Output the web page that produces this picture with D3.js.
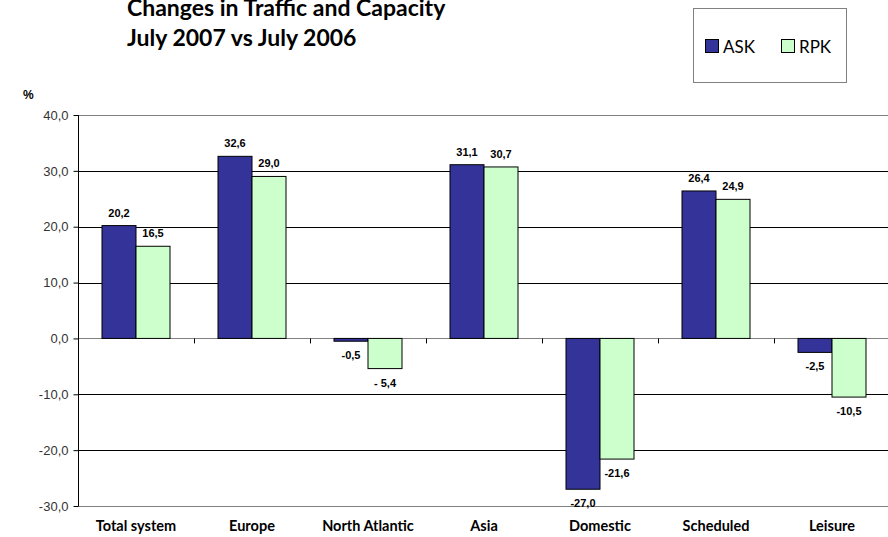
<!DOCTYPE html>
<html>
<head>
<meta charset="utf-8">
<script src="https://cdn.jsdelivr.net/npm/d3@7"></script>
<style>
  body { margin: 0; background: #fff; }
  svg { display: block; }
</style>
</head>
<body>
<div id="chart"></div>
<script>
const CATEGORIES = ["Total system", "Europe", "North Atlantic", "Asia", "Domestic", "Scheduled", "Leisure"];
const SERIES = ["ASK", "RPK"];
const ASK = [20.2, 32.6, -0.5, 31.1, -27.0, 26.4, -2.5];
const RPK = [16.5, 29.0, -5.4, 30.7, -21.6, 24.9, -10.5];
const Y_TICKS = [-30, -20, -10, 0, 10, 20, 30, 40];
const COLORS = {ASK: "#333399", RPK: "#CCFFCC"};

const WIDTH = 888, HEIGHT = 537;
const LEFT = 78, RIGHT = 890, TOP = 115, BOTTOM = 506;

// comma as decimal separator, plain hyphen for minus
const fmt = v => d3.format(".1f")(v).replace("−", "-").replace(".", ",");

let data = CATEGORIES.map((c, i) => ({cat: c, ASK: ASK[i], RPK: RPK[i]}));

let svg = d3.select("#chart").append("svg")
    .attr("width", WIDTH)
    .attr("height", HEIGHT);

let x = d3.scaleBand().domain(CATEGORIES).range([LEFT, RIGHT]);
let xs = d3.scaleBand().domain(SERIES).range([24, x.bandwidth() - 24]);
let y = d3.scaleLinear().domain([-30, 40]).range([BOTTOM, TOP]);

// gridlines
svg.append("g").selectAll("line")
   .data(Y_TICKS)
   .enter()
   .append("line")
   .attr("x1", LEFT)
   .attr("x2", WIDTH)
   .attr("y1", d => Math.round(y(d)) + 0.5)
   .attr("y2", d => Math.round(y(d)) + 0.5)
   .attr("stroke", d => (d === 40 || d === 0 || d === -30) ? "#808080" : "#000")
   .attr("stroke-width", 1);

// y axis
let yAxis = d3.axisLeft(y)
    .tickValues(Y_TICKS)
    .tickSize(5)
    .tickFormat(fmt);
let yg = svg.append("g")
   .attr("transform", "translate(" + (LEFT + 0.5) + ",0)")
   .call(yAxis);
yg.select(".domain").attr("stroke", "#000").attr("d", "M0," + TOP + "V" + BOTTOM);
yg.selectAll(".tick line").attr("stroke", "#000");
yg.selectAll(".tick text")
  .attr("x", -10)
  .attr("font-family", "Liberation Sans, Arial, sans-serif")
  .attr("font-size", 13)
  .attr("fill", "#333");

svg.append("text")
   .attr("x", 23)
   .attr("y", 99)
   .attr("font-family", "Liberation Sans, Arial, sans-serif")
   .attr("font-weight", "bold")
   .attr("font-size", 12)
   .text("%");

// category ticks at zero line
svg.append("g").selectAll("line")
   .data(CATEGORIES.slice(1))
   .enter()
   .append("line")
   .attr("x1", d => Math.round(x(d)) + 0.5)
   .attr("x2", d => Math.round(x(d)) + 0.5)
   .attr("y1", y(0))
   .attr("y2", y(0) + 5)
   .attr("stroke", "#000");

// bars
let groups = svg.append("g").selectAll("g")
   .data(data)
   .enter()
   .append("g")
   .attr("transform", d => "translate(" + x(d.cat) + ",0)");

groups.selectAll("rect")
   .data(d => SERIES.map(s => ({key: s, value: d[s]})))
   .enter()
   .append("rect")
   .attr("x", d => xs(d.key))
   .attr("y", d => y(Math.max(0, d.value)))
   .attr("width", xs.bandwidth())
   .attr("height", d => Math.abs(y(d.value) - y(0)))
   .attr("fill", d => COLORS[d.key])
   .attr("stroke", "#000")
   .attr("stroke-width", 1);

groups.selectAll("text")
   .data(d => SERIES.map(s => ({key: s, value: d[s], cat: d.cat})))
   .enter()
   .append("text")
   .attr("x", d => xs(d.key) + xs.bandwidth() / 2)
   .attr("y", d => d.value >= 0 ? y(d.value) - 9 : y(d.value) + 18)
   .attr("text-anchor", "middle")
   .attr("font-family", "Liberation Sans, Arial, sans-serif")
   .attr("font-weight", "bold")
   .attr("font-size", 11)
   .attr("fill", "#000")
   .text(d => (d.cat === "North Atlantic" && d.key === "RPK") ? "- 5,4" : fmt(d.value));

// category labels
svg.append("g").selectAll("text")
   .data(CATEGORIES)
   .enter()
   .append("text")
   .attr("x", d => x(d) + x.bandwidth() / 2)
   .attr("y", 531)
   .attr("text-anchor", "middle")
   .attr("font-family", "Lato, Open Sans, sans-serif")
   .attr("font-weight", "bold")
   .attr("font-size", 14.5)
   .text(d => d);

// title
let title = svg.append("text")
   .attr("font-family", "Lato, Open Sans, sans-serif")
   .attr("font-weight", "bold")
   .attr("font-size", 23)
   .attr("fill", "#000");
title.append("tspan").attr("x", 127).attr("y", 16).text("Changes in Traffic and Capacity");
title.append("tspan").attr("x", 127).attr("y", 46).text("July 2007 vs July 2006");

// legend
let legend = svg.append("g");
legend.append("rect")
   .attr("x", 693.5)
   .attr("y", 8.5)
   .attr("width", 153)
   .attr("height", 74)
   .attr("fill", "#fff")
   .attr("stroke", "#808080");
let li = legend.selectAll("g")
   .data(SERIES)
   .enter()
   .append("g")
   .attr("transform", (d, i) => "translate(" + (705 + i * 76) + ",39)");
li.append("rect")
  .attr("x", 0.5)
  .attr("y", 0.5)
  .attr("width", 13)
  .attr("height", 13)
  .attr("fill", d => COLORS[d])
  .attr("stroke", "#000");
li.append("text")
  .attr("x", 18)
  .attr("y", 14)
  .attr("font-family", "Lato, Open Sans, sans-serif")
  .attr("font-size", 17)
  .text(d => d);
</script>
</body>
</html>
